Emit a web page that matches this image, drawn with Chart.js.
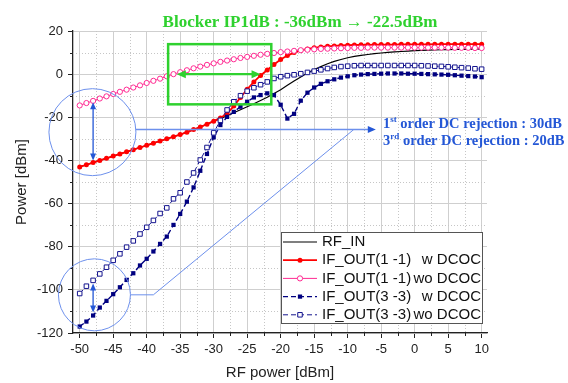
<!DOCTYPE html>
<html>
<head>
<meta charset="utf-8">
<script src="https://cdn.jsdelivr.net/npm/chart.js@4.4.1/dist/chart.umd.min.js"></script>
<style>
  html, body { margin: 0; padding: 0; background: #fff; }
  canvas { display: block; }
</style>
</head>
<body>
<canvas id="chart" width="568" height="383"></canvas>
<script>
// RF input sweep, dBm
const rfPower = [
  -50, -49, -48, -47, -46, -45, -44, -43, -42, -41,
  -40, -39, -38, -37, -36, -35, -34, -33, -32, -31,
  -30, -29, -28, -27, -26, -25, -24, -23, -22, -21,
  -20, -19, -18, -17, -16, -15, -14, -13, -12, -11,
  -10, -9, -8, -7, -6, -5, -4, -3, -2, -1,
  0, 1, 2, 3, 4, 5, 6, 7, 8, 9, 10
];

const rfIn = [
  -43, -42, -41, -40, -39, -38, -37, -36, -35, -34,
  -33, -32, -31, -30, -29, -28, -26.9, -25.7, -24.5, -23.2,
  -21.8, -20.6, -19.3, -17.9, -16.5, -15.1, -13.7, -12.2, -10.7, -9,
  -7.2, -5.2, -3.2, -1.3, 0.5, 2.1, 3.5, 4.8, 5.9, 6.8,
  7.6, 8.2, 8.7, 9.1, 9.5, 9.8, 10.1, 10.3, 10.5, 10.7,
  10.9, 11, 11.1, 11.2, 11.3, 11.4, 11.5, 11.5, 11.6, 11.6, 11.7
];

const ifOut11w = [
  -43, -42, -41, -40, -39, -38, -37, -36, -35, -34,
  -33, -32, -31, -30, -29, -28, -26.9, -25.7, -24.5, -23.2,
  -21.8, -20.3, -18.3, -14.8, -10.8, -7, -3.6, -0.6, 1.9, 4.5,
  6.8, 8.6, 10, 11, 11.7, 12.2, 12.6, 12.9, 13.1, 13.3,
  13.4, 13.5, 13.6, 13.6, 13.7, 13.7, 13.7, 13.7, 13.8, 13.8,
  13.8, 13.8, 13.8, 13.8, 13.9, 13.9, 13.9, 13.9, 13.9, 13.9, 13.9
];

const ifOut11wo = [
  -14.5, -13.4, -12.4, -11.3, -10.3, -9.2, -8.2, -7.2, -6.2, -5.2,
  -4.1, -3.1, -2.1, -1, 0, 0.9, 1.8, 2.7, 3.5, 4.3,
  5, 5.7, 6.3, 6.9, 7.5, 8, 8.5, 9, 9.4, 9.8,
  10.2, 10.5, 10.8, 11.1, 11.3, 11.5, 11.7, 11.8, 11.9, 12,
  12.1, 12.2, 12.2, 12.3, 12.3, 12.3, 12.3, 12.3, 12.3, 12.3,
  12.3, 12.3, 12.3, 12.3, 12.3, 12.3, 12.2, 12.2, 12.2, 12.1, 12.1
];

const ifOut33w = [
  -117, -114.7, -111.9, -108.2, -105.1, -102, -98.8, -95.4, -92.3, -88.7,
  -85.6, -82.2, -78.7, -75.3, -69.9, -64.8, -59.1, -52.5, -44.8, -37,
  -29.3, -23.6, -19.8, -17.5, -15.1, -12.8, -10.8, -9.7, -8.9, -9.7,
  -14.2, -20.6, -18.4, -12.3, -8.6, -6.2, -4.5, -3.3, -2.4, -1.6,
  -1, -0.5, -0.2, 0, 0.1, 0.2, 0.3, 0.3, 0.3, 0.2,
  0.2, 0.1, 0, -0.1, -0.2, -0.3, -0.5, -0.7, -0.9, -1.1, -1.4
];

const ifOut33wo = [
  -101.7, -98.3, -95.6, -92.6, -89.5, -86.3, -83.3, -80.2, -77.3, -74.1,
  -71, -67.8, -64.6, -62, -57.8, -55, -50, -45.8, -39.8, -34,
  -27.2, -21.4, -16.6, -12.8, -10, -7.9, -6.3, -4.9, -3.6, -2,
  -1.2, -0.7, -0.3, 0.2, 0.8, 1.4, 2, 2.6, 3.1, 3.5,
  3.7, 3.9, 4, 4, 4, 4, 4, 4, 4, 4,
  4, 3.9, 3.8, 3.7, 3.6, 3.4, 3.2, 3, 2.8, 2.5, 2.3
];

const xTicks = [-50, -45, -40, -35, -30, -25, -20, -15, -10, -5, 0, 5, 10];
const yTicks = [20, 0, -20, -40, -60, -80, -100, -120];
const xMinorTicks = [-47.5, -42.5, -37.5, -32.5, -27.5, -22.5, -17.5, -12.5, -7.5, -2.5, 2.5, 7.5];
const yMinorTicks = [10, -10, -30, -50, -70, -90, -110];

const SANS = '"Liberation Sans", Arial, sans-serif';
const SERIF = '"Liberation Serif", "Times New Roman", serif';
const BLUE = '#2457d6';
const LIGHT_BLUE = '#6d90ec';
const GREEN = '#2fd12f';

const points = arr => rfPower.map((x, i) => ({ x, y: arr[i] }));

function arrowHead(ctx, x, y, angle, len, width, color) {
  ctx.save();
  ctx.translate(x, y);
  ctx.rotate(angle);
  ctx.beginPath();
  ctx.moveTo(0, 0);
  ctx.lineTo(-len, width / 2);
  ctx.lineTo(-len, -width / 2);
  ctx.closePath();
  ctx.fillStyle = color;
  ctx.fill();
  ctx.restore();
}

function segment(ctx, x1, y1, x2, y2) {
  ctx.beginPath();
  ctx.moveTo(x1, y1);
  ctx.lineTo(x2, y2);
  ctx.stroke();
}

// text with superscript pieces, e.g. 1st
function richText(ctx, parts, x, y, size) {
  parts.forEach(([t, sup]) => {
    ctx.font = 'bold ' + (sup ? Math.round(size * 0.62) : size) + 'px ' + SERIF;
    ctx.fillText(t, x, sup ? y - size * 0.38 : y);
    x += ctx.measureText(t).width;
  });
}

const overlay = {
  id: 'overlay',
  beforeDatasetsDraw(chart) {
    const { ctx, chartArea: a, scales: { x, y } } = chart;
    ctx.save();
    ctx.lineWidth = 1;
    ctx.strokeStyle = '#c6c6c6';
    ctx.setLineDash([1, 2]);
    xMinorTicks.forEach(v => {
      const px = Math.round(x.getPixelForValue(v)) + 0.5;
      segment(ctx, px, a.top, px, a.bottom);
    });
    yMinorTicks.forEach(v => {
      const py = Math.round(y.getPixelForValue(v)) + 0.5;
      segment(ctx, a.left, py, a.right, py);
    });
    ctx.setLineDash([]);
    // minor tick marks
    ctx.strokeStyle = '#222';
    xMinorTicks.forEach(v => {
      const px = Math.round(x.getPixelForValue(v)) + 0.5;
      segment(ctx, px, a.bottom, px, a.bottom + 3);
    });
    yMinorTicks.forEach(v => {
      const py = Math.round(y.getPixelForValue(v)) + 0.5;
      segment(ctx, a.left - 3, py, a.left, py);
    });
    ctx.restore();
  },
  afterDatasetsDraw(chart) {
    const { ctx, scales: { x, y } } = chart;
    const X = v => x.getPixelForValue(v);
    const Y = v => y.getPixelForValue(v);
    ctx.save();

    // IP1dB window and shift arrow
    ctx.strokeStyle = GREEN;
    ctx.lineWidth = 2.5;
    ctx.strokeRect(X(-36.8), Y(13.9), X(-21.4) - X(-36.8), Y(-14) - Y(13.9));
    ctx.lineWidth = 2.2;
    segment(ctx, X(-35.5) + 6, Y(0), X(-23) - 6, Y(0));
    arrowHead(ctx, X(-23), Y(0), 0, 9, 8, GREEN);
    arrowHead(ctx, X(-35.5), Y(0), Math.PI, 9, 8, GREEN);

    // circles around the low-power region
    ctx.strokeStyle = LIGHT_BLUE;
    ctx.lineWidth = 1;
    ctx.beginPath();
    ctx.arc(X(-48.1), Y(-26.9), 43.5, 0, Math.PI * 2);
    ctx.stroke();
    ctx.beginPath();
    ctx.arc(X(-47.8), Y(-102.3), 36, 0, Math.PI * 2);
    ctx.stroke();

    // leader lines to the rejection note
    ctx.lineWidth = 1.5;
    segment(ctx, X(-41.6), Y(-25.7), X(-6.6), Y(-25.7));
    arrowHead(ctx, X(-5.8), Y(-25.7), 0, 8, 7, BLUE);
    ctx.lineWidth = 1;
    ctx.beginPath();
    ctx.moveTo(X(-42.4), Y(-102.3));
    ctx.lineTo(X(-39), Y(-102.3));
    ctx.lineTo(X(-9.1), Y(-25.7));
    ctx.stroke();

    // DC rejection spans
    ctx.strokeStyle = BLUE;
    ctx.lineWidth = 1.3;
    segment(ctx, X(-48), Y(-13) + 5, X(-48), Y(-40) - 5);
    arrowHead(ctx, X(-48), Y(-13), -Math.PI / 2, 7, 6, BLUE);
    arrowHead(ctx, X(-48), Y(-40), Math.PI / 2, 7, 6, BLUE);
    segment(ctx, X(-48), Y(-97) + 5, X(-48), Y(-110.5) - 5);
    arrowHead(ctx, X(-48), Y(-97), -Math.PI / 2, 7, 6, BLUE);
    arrowHead(ctx, X(-48), Y(-110.5), Math.PI / 2, 7, 6, BLUE);
    ctx.restore();
  },
  afterDraw(chart) {
    const { ctx } = chart;
    ctx.save();

    ctx.fillStyle = GREEN;
    ctx.font = 'bold 17px ' + SERIF;
    ctx.textAlign = 'center';
    ctx.textBaseline = 'alphabetic';
    ctx.fillText('Blocker IP1dB : -36dBm \u2192 -22.5dBm', 300, 27);

    ctx.textAlign = 'left';
    ctx.fillStyle = BLUE;
    richText(ctx, [['1'], ['st', true], [' order DC rejection : 30dB']], 383, 128, 14.5);
    richText(ctx, [['3'], ['rd', true], [' order DC rejection : 20dB']], 383, 145, 14.5);

    // legend
    const box = { left: 281, top: 232, right: 483, bottom: 324 };
    ctx.fillStyle = '#fff';
    ctx.fillRect(box.left, box.top, box.right - box.left, box.bottom - box.top);
    ctx.strokeStyle = '#555';
    ctx.lineWidth = 1;
    ctx.strokeRect(box.left + 0.5, box.top + 0.5, box.right - box.left - 1, box.bottom - box.top - 1);

    ctx.font = '15px ' + SANS;
    ctx.textBaseline = 'middle';
    chart.data.datasets.forEach((ds, i) => {
      const cy = 242 + i * 18.2;
      ctx.strokeStyle = ds.borderColor;
      ctx.lineWidth = ds.borderWidth;
      ctx.setLineDash(ds.borderDash || []);
      segment(ctx, 283, cy, 317, cy);
      ctx.setLineDash([]);
      if (ds.pointRadius > 0) {
        ctx.fillStyle = ds.pointBackgroundColor;
        ctx.strokeStyle = ds.borderColor;
        ctx.lineWidth = ds.pointBorderWidth;
        Chart.helpers.drawPoint(ctx, {
          pointStyle: ds.pointStyle, rotation: 0,
          radius: ds.pointRadius, borderWidth: ds.pointBorderWidth
        }, 300, cy);
      }
      ctx.fillStyle = '#111';
      const m = ds.label.match(/^(.*\))\s+(wo? DCOC)$/);
      ctx.textAlign = 'left';
      ctx.fillText(m ? m[1] : ds.label, 322, cy);
      if (m) {
        ctx.textAlign = 'right';
        ctx.fillText(m[2], 481, cy);
      }
    });
    ctx.restore();
  }
};

new Chart(document.getElementById('chart'), {
  type: 'line',
  data: {
    datasets: [
      {
        label: 'RF_IN',
        data: points(rfIn),
        borderColor: '#000',
        borderWidth: 1.2,
        pointRadius: 0,
        order: 4
      },
      {
        label: 'IF_OUT(1 -1) w DCOC',
        data: points(ifOut11w),
        borderColor: '#ff0000',
        backgroundColor: '#ff0000',
        pointBackgroundColor: '#ff0000',
        borderWidth: 1.8,
        pointStyle: 'circle',
        pointRadius: 2.5,
        pointBorderWidth: 0,
        order: 3
      },
      {
        label: 'IF_OUT(1 -1) wo DCOC',
        data: points(ifOut11wo),
        borderColor: '#ff2a92',
        pointBackgroundColor: '#fff',
        borderWidth: 1,
        pointStyle: 'circle',
        pointRadius: 2.6,
        pointBorderWidth: 1,
        order: 2
      },
      {
        label: 'IF_OUT(3 -3) w DCOC',
        data: points(ifOut33w),
        borderColor: '#000080',
        pointBackgroundColor: '#000080',
        borderWidth: 1.4,
        borderDash: [5, 3],
        pointStyle: 'rect',
        pointRadius: 3,
        pointBorderWidth: 0,
        order: 1
      },
      {
        label: 'IF_OUT(3 -3) wo DCOC',
        data: points(ifOut33wo),
        borderColor: '#14148e',
        pointBackgroundColor: '#fff',
        borderWidth: 1,
        borderDash: [5, 3],
        pointStyle: 'rect',
        pointRadius: 3.2,
        pointBorderWidth: 1,
        order: 0
      }
    ]
  },
  options: {
    responsive: false,
    animation: false,
    events: [],
    layout: { padding: { left: 0, right: 81, top: 31, bottom: 0 } },
    plugins: { legend: { display: false }, tooltip: { enabled: false } },
    scales: {
      x: {
        type: 'linear',
        min: -51,
        max: 10.8,
        afterBuildTicks: s => { s.ticks = xTicks.map(v => ({ value: v })); },
        afterFit: s => { s.height = 50; },
        ticks: { color: '#222', font: { family: SANS, size: 13 }, padding: 4, autoSkip: false, maxRotation: 0 },
        grid: { color: '#cfcfcf', lineWidth: 1, tickColor: '#222', tickLength: 5 },
        border: { color: '#222', width: 1.3 },
        title: { display: true, text: 'RF power [dBm]', color: '#222', font: { family: SANS, size: 15 }, padding: { top: 0, bottom: 1 } }
      },
      y: {
        type: 'linear',
        min: -120,
        max: 20,
        afterBuildTicks: s => { s.ticks = yTicks.map(v => ({ value: v })); },
        afterFit: s => { s.width = 73; },
        ticks: { color: '#222', font: { family: SANS, size: 13 }, padding: 5 },
        grid: { color: '#cfcfcf', lineWidth: 1, tickColor: '#222', tickLength: 5 },
        border: { color: '#222', width: 1.3 },
        title: { display: true, text: 'Power [dBm]', color: '#222', font: { family: SANS, size: 15 }, padding: { top: 13, bottom: 0 } }
      }
    }
  },
  plugins: [overlay]
});
</script>
</body>
</html>
